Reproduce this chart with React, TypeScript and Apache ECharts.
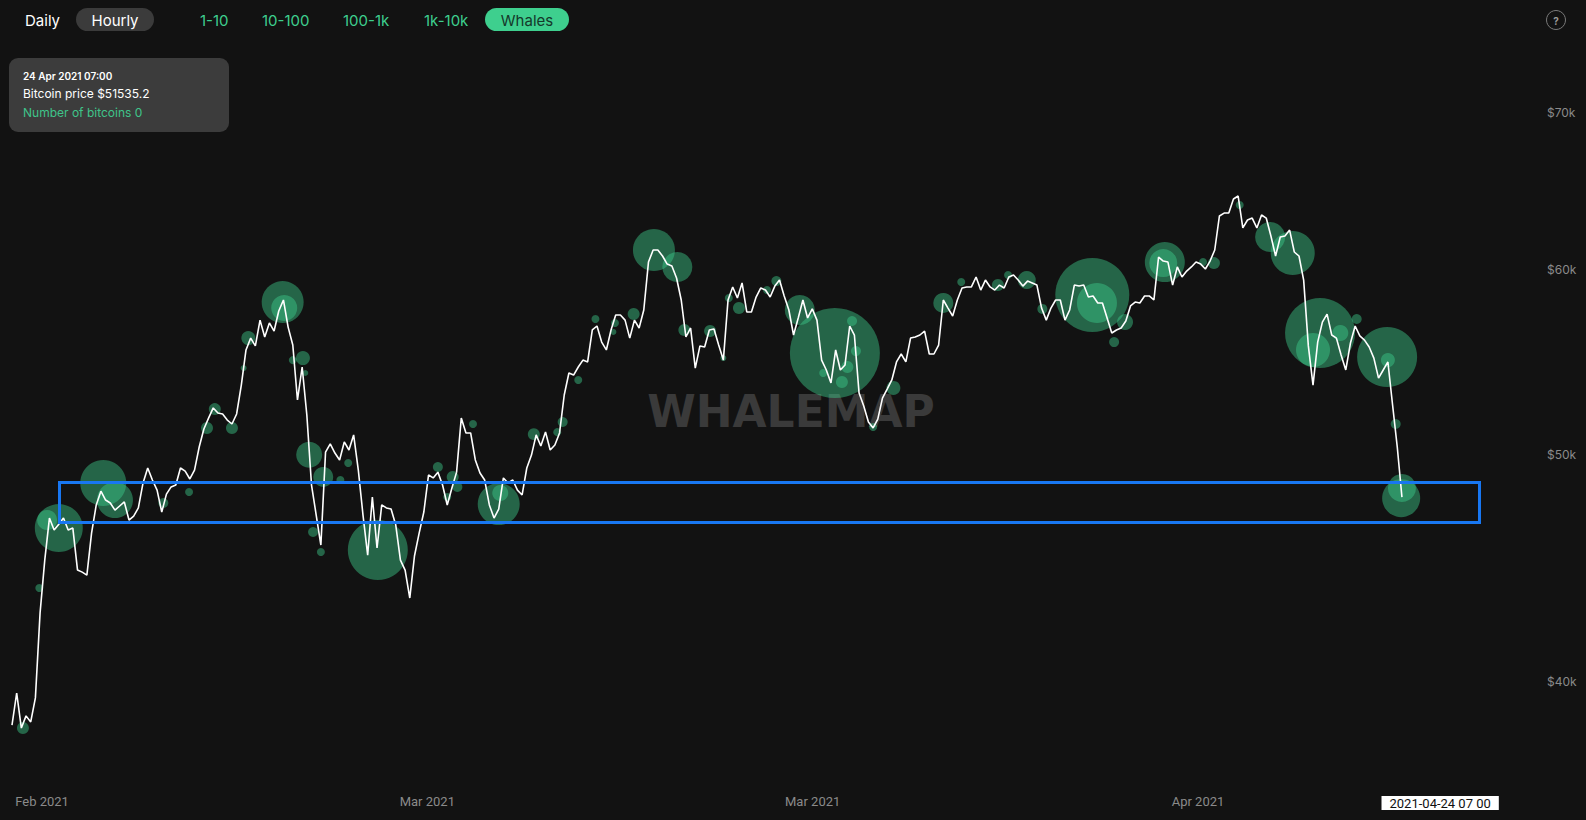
import React, { useEffect, useRef } from "react";
import * as echarts from "echarts";

const START = Date.UTC(2021, 1, 7, 0, 0);
const HOUR = 3600 * 1000;
const STEP_HOURS = 6;

// Bitcoin price, one reading every 6 hours from 7 Feb 2021 00:00 UTC
const prices: number[] = [
  38330, 39560, 38220, 38680, 38450, 39370, 42800, 45080, 46980, 46430,
  46700, 46980, 46430, 46520, 44640, 44550, 44420, 46290, 47590, 48240,
  47820, 47680, 47350, 47540, 47730, 46890, 47070, 47450, 48630, 49350,
  48770, 48290, 47260, 48100, 48440, 48530, 49350, 49200, 48820, 49250,
  50380, 51280, 51830, 52350, 52090, 52040, 51730, 51530, 52040, 53540,
  55420, 56070, 55640, 57070, 56130, 56910, 56460, 57580, 58210, 56680,
  55690, 52760, 54500, 51990, 48530, 47120, 45750, 50130, 50530, 50080,
  49740, 50630, 50230, 50980, 49250, 47120, 45300, 47960, 45620, 47590,
  47450, 47400, 46660, 45080, 44640, 43430, 45260, 46290, 47260, 49010,
  48870, 49150, 48530, 47590, 48390, 49150, 51830, 51080, 51080, 49740,
  49110, 48770, 47590, 46980, 47400, 48870, 48630, 48770, 48290, 48060,
  49350, 49980, 50980, 50430, 51130, 50230, 50480, 51080, 53020, 54180,
  54070, 54500, 54870, 54770, 56520, 56740, 55850, 55420, 56520, 57360,
  57360, 57070, 56070, 57070, 56630, 57640, 60420, 61140, 61140, 60780,
  60300, 60190, 59480, 58210, 56130, 56630, 54440, 55640, 55580, 56520,
  56570, 55690, 54870, 58210, 58960, 58320, 59190, 57530, 57530, 58380,
  58900, 58780, 58380, 59010, 59360, 58440, 57640, 56240, 57190, 58210,
  57190, 57700, 57070, 54870, 54340, 53650, 55420, 54340, 54610, 56740,
  56240, 53120, 52450, 51630, 51330, 51780, 52860, 53330, 53810, 54770,
  55200, 54770, 56070, 56130, 56240, 56460, 55200, 55200, 55690, 58210,
  57750, 57300, 58210, 58900, 58960, 58960, 59540, 58780, 59360, 58960,
  58780, 59070, 58900, 59540, 59660, 59360, 59010, 59300, 59190, 59070,
  57750, 57070, 57750, 58210, 58210, 57070, 57640, 59070, 59010, 59070,
  58380, 58440, 58040, 58040, 57190, 56350, 56520, 56630, 57020, 57870,
  58090, 58040, 58440, 58440, 58210, 60720, 60480, 60420, 59070, 60130,
  59540, 59890, 60130, 60420, 60300, 60010, 60480, 61140, 63220, 63400,
  63400, 64280, 64470, 62480, 62970, 63090, 62480, 63280, 63090, 61990,
  60780, 61930, 61990, 62350, 61020, 60780, 59360, 55640, 53540, 55850,
  56960, 57410, 56240, 56070, 55150, 54340, 55800, 56740, 56190, 55960,
  55580, 54980, 53910, 54340, 54770, 52500, 50380, 47960,
];

// Whale transactions: hours after start, price, number of bitcoins
const whaleHours: number[] = [
  14, 35, 45, 60, 117, 132, 194, 227, 250, 260, 282, 297, 303, 347, 349, 360,
  373, 376, 381, 386, 396, 399, 421, 431, 469, 546, 558, 565, 571, 591, 624,
  626, 669, 699, 706, 726, 748, 771, 773, 797, 823, 853, 862, 895, 912, 919,
  932, 968, 980, 1010, 1040, 1055, 1064, 1071, 1077, 1082, 1104, 1130, 1194,
  1217, 1264, 1277, 1301, 1321, 1385, 1391, 1413, 1427, 1476, 1478, 1527,
  1541, 1574, 1613, 1642, 1668, 1677, 1703, 1724, 1763, 1764, 1774, 1781, 1782,
];
const whalePrices: number[] = [
  38220, 43860, 46890, 46520, 48630, 47820, 47680, 48200, 51330, 52290, 51330,
  54440, 56070, 58090, 57750, 54870, 54980, 54180, 50000, 46340, 45440, 48920,
  48770, 49590, 45530, 49400, 47960, 48920, 48440, 51530, 47630, 48150, 51020,
  51120, 51630, 53810, 57130, 56410, 56910, 57410, 61140, 60130, 56520, 56460,
  54980, 58320, 57750, 58780, 59300, 57640, 54180, 55250, 53700, 54500, 57020,
  55360, 51380, 53390, 58040, 59250, 59070, 59660, 59360, 57700, 58500, 58040,
  55850, 56960, 60360, 60420, 60420, 60360, 63900, 61930, 60960, 55420, 56350,
  56350, 57130, 55040, 54870, 51530, 47910, 48390,
];
const whaleBtc: number[] = [
  144, 64, 400, 2304, 2116, 1296, 100, 64, 144, 144, 144, 36, 196, 1764, 676,
  64, 196, 36, 676, 100, 64, 400, 64, 64, 3600, 100, 64, 144, 100, 64, 1764,
  256, 144, 64, 100, 64, 64, 36, 64, 144, 1764, 900, 144, 144, 36, 64, 144, 64,
  100, 900, 64, 8100, 144, 144, 100, 100, 64, 196, 400, 64, 144, 64, 324, 100,
  5476, 1600, 100, 256, 784, 1600, 64, 144, 64, 900, 1936, 1156, 4900, 256,
  100, 3600, 196, 100, 1444, 784,
];

const xLabelHours: number[] = [38.5, 532.5, 1026.5, 1520.5];
const yTickValues: number[] = [40000, 50000, 60000, 70000];
const pointerHour = 1831;
const MONTHS = ["Jan", "Feb", "Mar", "Apr", "May", "Jun", "Jul", "Aug", "Sep", "Oct", "Nov", "Dec"];

const rangeTabs = ["Daily", "Hourly"];
const sizeTabs = ["1-10", "10-100", "100-1k", "1k-10k", "Whales"];

const tooltipDate = "24 Apr 2021 07:00";
const tooltipPrice = 51535.2;
const tooltipCoins = 0;

const GREEN = "#3ecf8e";
const FONT = "Inter, 'Noto Sans', sans-serif";

function pad(n: number) {
  return n < 10 ? "0" + n : "" + n;
}

export default function App() {
  const ref = useRef<HTMLDivElement>(null);

  useEffect(() => {
    document.body.style.margin = "0";
    document.body.style.background = "#121212";
    if (!ref.current) return;
    const chart = echarts.init(ref.current, null, { renderer: "svg" });

    const lineData = prices.map((p, i) => [START + i * STEP_HOURS * HOUR, p]);
    const whaleData = whaleHours.map((h, i) => [START + h * HOUR, whalePrices[i], whaleBtc[i]]);

    const tabX = [25, 115];
    const sizeX = [200, 262, 343, 424, 527];

    const graphic: any[] = [
      {
        type: "text",
        x: 791,
        y: 411,
        z: 0,
        silent: true,
        style: {
          text: "WHALEMAP",
          fontSize: 44,
          fontWeight: "bold",
          fontFamily: "'DejaVu Sans', sans-serif",
          fill: "#3a3a3a",
          textAlign: "center",
          textVerticalAlign: "middle",
        },
      },
      {
        type: "rect",
        z: 100,
        shape: { x: 59.5, y: 482.5, width: 1420, height: 40 },
        style: { fill: "none", stroke: "#1877f2", lineWidth: 3 },
      },
      { type: "rect", z: 100, shape: { x: 76, y: 8, width: 78, height: 23, r: 11.5 }, style: { fill: "#3b3b3b" } },
      { type: "rect", z: 100, shape: { x: 485, y: 8, width: 84, height: 23, r: 11.5 }, style: { fill: GREEN } },
      ...rangeTabs.map((t, i) => ({
        type: "text",
        z: 101,
        x: tabX[i],
        y: 20,
        style: {
          text: t,
          fontSize: 15,
          fontFamily: FONT,
          fill: "#ffffff",
          textAlign: i === 0 ? "left" : "center",
          textVerticalAlign: "middle",
        },
      })),
      ...sizeTabs.map((t, i) => ({
        type: "text",
        z: 101,
        x: sizeX[i],
        y: 20,
        style: {
          text: t,
          fontSize: 15,
          fontFamily: FONT,
          fill: i === 4 ? "#15382a" : GREEN,
          textAlign: i === 4 ? "center" : "left",
          textVerticalAlign: "middle",
        },
      })),
      { type: "circle", z: 100, shape: { cx: 1556, cy: 20, r: 9.5 }, style: { fill: "none", stroke: "#7a7a7a", lineWidth: 1 } },
      {
        type: "text",
        z: 101,
        x: 1556,
        y: 20.5,
        style: { text: "?", fontSize: 10, fontWeight: "bold", fontFamily: FONT, fill: "#9a9a9a", textAlign: "center", textVerticalAlign: "middle" },
      },
      { type: "rect", z: 100, shape: { x: 9, y: 58, width: 220, height: 74, r: 9 }, style: { fill: "#3c3c3c" } },
      {
        type: "text",
        z: 101,
        x: 23,
        y: 76,
        style: { text: tooltipDate, fontSize: 10, fontWeight: 600, fontFamily: FONT, fill: "#ffffff", textVerticalAlign: "middle" },
      },
      {
        type: "text",
        z: 101,
        x: 23,
        y: 93,
        style: { text: "Bitcoin price $" + tooltipPrice, fontSize: 12, fontFamily: FONT, fill: "#ffffff", textVerticalAlign: "middle" },
      },
      {
        type: "text",
        z: 101,
        x: 23,
        y: 112,
        style: { text: "Number of bitcoins " + tooltipCoins, fontSize: 12, fontFamily: FONT, fill: "#3fc48a", textVerticalAlign: "middle" },
      },
    ];

    const option: any = {
      animation: false,
      backgroundColor: "#121212",
      grid: { left: 12, right: 46, top: 40, bottom: 40 },
      xAxis: {
        type: "value",
        min: START,
        max: START + 1959 * HOUR,
        axisLine: { show: false },
        axisTick: { show: false },
        splitLine: { show: false },
        axisLabel: {
          customValues: xLabelHours.map((h) => START + h * HOUR),
          formatter: (v: number) => {
            const d = new Date(v);
            return MONTHS[d.getUTCMonth()] + " " + d.getUTCFullYear();
          },
          color: "#8a8a8a",
          fontSize: 13,
          fontFamily: "Roboto, sans-serif",
          margin: 15,
          hideOverlap: false,
        },
        axisPointer: {
          show: true,
          status: "show",
          value: START + pointerHour * HOUR,
          type: "line",
          triggerTooltip: false,
          lineStyle: { opacity: 0 },
          label: {
            show: true,
            margin: 16,
            backgroundColor: "#ffffff",
            color: "#111111",
            fontSize: 13,
            fontFamily: "Roboto, sans-serif",
            padding: [0, 8],
            lineHeight: 14,
            borderRadius: 0,
            shadowBlur: 0,
            formatter: (p: any) => {
              const d = new Date(p.value);
              return (
                d.getUTCFullYear() + "-" + pad(d.getUTCMonth() + 1) + "-" + pad(d.getUTCDate()) + " " +
                pad(d.getUTCHours()) + " " + pad(d.getUTCMinutes())
              );
            },
          },
        },
      },
      yAxis: {
        type: "log",
        logBase: 10,
        position: "right",
        min: 36318,
        max: 75155,
        axisLine: { show: false },
        axisTick: { show: false },
        splitLine: { show: false },
        axisLabel: {
          customValues: yTickValues,
          formatter: (v: number) => "$" + Math.round(v / 1000) + "k",
          color: "#8a8a8a",
          fontSize: 12,
          fontFamily: FONT,
          margin: 7,
        },
      },
      series: [
        {
          type: "scatter",
          z: 2,
          data: whaleData,
          symbolSize: (d: number[]) => Math.sqrt(d[2]),
          itemStyle: { color: "rgba(62, 207, 142, 0.55)" },
          silent: true,
        },
        {
          type: "line",
          z: 3,
          data: lineData,
          showSymbol: false,
          symbol: "none",
          lineStyle: { color: "#ffffff", width: 1.6 },
          silent: true,
        },
      ],
      graphic,
    };

    chart.setOption(option);
    return () => chart.dispose();
  }, []);

  return <div ref={ref} style={{ width: 1586, height: 820 }} />;
}
